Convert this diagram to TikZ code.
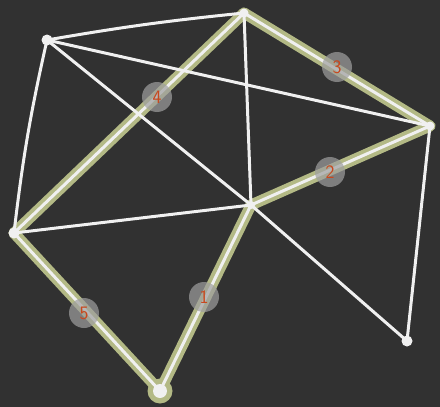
\documentclass[tikz,border=0pt]{standalone}
\usetikzlibrary{calc}
\definecolor{board}{HTML}{313131}
\definecolor{chalkgreen}{HTML}{B3B985}
\definecolor{chalkwhite}{HTML}{F0F0F0}
\definecolor{numred}{HTML}{C8481E}
\begin{document}
\begin{tikzpicture}[x=1pt,y=-1pt,
  dot/.style={circle,fill=chalkwhite,inner sep=0pt,minimum size=11pt},
  wline/.style={draw=chalkwhite,line width=3pt,line cap=round},
  gline/.style={draw=chalkgreen,line width=11pt,line cap=round},
  badge/.style={circle,fill=gray!75,fill opacity=0.7,text opacity=1,minimum size=30pt,inner sep=0pt,text=numred,font=\sffamily\fontsize{19}{19}\selectfont}]
\fill[board] (0,0) rectangle (440,407);
\useasboundingbox (0,0) rectangle (440,407);
\coordinate (A) at (47,40);
\coordinate (B) at (244,13);
\coordinate (C) at (430,126);
\coordinate (D) at (251,205);
\coordinate (E) at (14,233);
\coordinate (F) at (160,391);
\coordinate (G) at (407,341);
% green highlighted path
\path[gline] (B) -- (E);
\path[gline] (B) -- (C);
\path[gline] (C) -- (D);
\path[gline] (D) -- (F);
\path[gline] (E) -- (F);
\node[circle,fill=chalkgreen,minimum size=25pt,inner sep=0pt] at (F) {};
% white chalk lines
\path[wline] (A) to[bend left=2] (B);
\path[wline] (A) -- (C);
\path[wline] (A) -- (D);
\path[wline] (A) to[bend right=3] (E);
\path[wline] (B) -- (D);
\path[wline] (B) -- (E);
\path[wline] (B) -- (C);
\path[wline] (C) -- (D);
\path[wline] (C) -- (G);
\path[wline] (D) -- (E);
\path[wline] (D) -- (F);
\path[wline] (D) -- (G);
\path[wline] (E) -- (F);
% nodes
\node[dot] (nA) at (A) {};
\node[dot,minimum size=9pt] (nB) at (B) {};
\node[dot,minimum size=9pt] (nC) at (C) {};
\node[dot,minimum size=8pt] (nD) at (D) {};
\node[dot] (nE) at (E) {};
\node[dot,minimum size=14pt] (nF) at (F) {};
\node[dot] (nG) at (G) {};
% labels
\node[badge] (l4) at (157,97) {4};
\node[badge] (l3) at (337,67) {3};
\node[badge] (l2) at (330,172) {2};
\node[badge] (l5) at (84,313) {5};
\node[badge] (l1) at (204,297) {1};
\end{tikzpicture}
\end{document}
